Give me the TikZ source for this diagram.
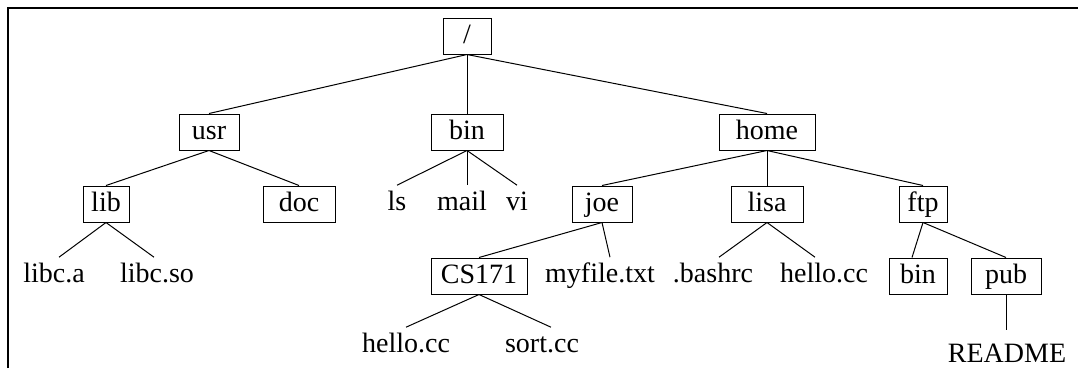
\documentclass[tikz,border=0pt]{standalone}
\usepackage{fontspec}
\setmainfont{Liberation Serif}
\tikzset{
    dir/.style={draw, line width=1pt, inner sep=0pt, minimum height=36pt, minimum width=#1,
        text height=19.6pt, text depth=5.6pt, font=\fontsize{28}{34}\selectfont},
    leaf/.style={inner sep=5pt, text height=19.6pt, text depth=5.6pt, font=\fontsize{28}{34}\selectfont},
    edge/.style={line width=1pt}
}
\begin{document}
\begin{tikzpicture}[x=1pt, y=-1pt]
        \useasboundingbox (0,0) rectangle (1078,368);
        \draw[line width=2pt] (7.5,368) -- (7.5,7.5) -- (1078,7.5);
        \node[dir=48pt] (root) at (467,36) {/};
        \node[dir=60pt] (usr) at (209,132) {usr};
        \node[dir=72pt] (bin) at (467,132) {bin};
        \node[dir=96pt] (home) at (767,132) {home};
        \node[dir=46pt] (lib) at (106,204) {lib};
        \node[dir=72pt] (doc) at (299,204) {doc};
        \node[leaf] (ls) at (397,203) {ls};
        \node[leaf] (mail) at (462,203) {mail};
        \node[leaf] (vi) at (517,203) {vi};
        \node[dir=60pt] (joe) at (602,204) {joe};
        \node[dir=72pt] (lisa) at (767,204) {lisa};
        \node[dir=48pt] (ftp) at (923,204) {ftp};
        \node[leaf] (libca) at (54,275) {libc.a};
        \node[leaf] (libcso) at (157,275) {libc.so};
        \node[dir=96pt] (cs) at (479,276) {CS171};
        \node[leaf] (myfile) at (600,275) {myfile.txt};
        \node[leaf] (bashrc) at (713,275) {.bashrc};
        \node[leaf] (lisahello) at (824,275) {hello.cc};
        \node[dir=58pt] (ftpbin) at (918,276) {bin};
        \node[dir=70pt] (pub) at (1006,276) {pub};
        \node[leaf] (cshello) at (406,345) {hello.cc};
        \node[leaf] (sortcc) at (542,345) {sort.cc};
        \node[leaf, inner ysep=12pt] (readme) at (1007,355) {README};
        \draw[edge] (root.south) -- (usr.north);
        \draw[edge] (root.south) -- (bin.north);
        \draw[edge] (root.south) -- (home.north);
        \draw[edge] (usr.south) -- (lib.north);
        \draw[edge] (usr.south) -- (doc.north);
        \draw[edge] (bin.south) -- (ls.north);
        \draw[edge] (bin.south) -- (bin.south |- mail.north);
        \draw[edge] (bin.south) -- (vi.north);
        \draw[edge] (home.south) -- (joe.north);
        \draw[edge] (home.south) -- (lisa.north);
        \draw[edge] (home.south) -- (ftp.north);
        \draw[edge] (lib.south) -- ([xshift=5pt]libca.north);
        \draw[edge] (lib.south) -- ([xshift=-3pt]libcso.north);
        \draw[edge] (joe.south) -- (cs.north);
        \draw[edge] (joe.south) -- ([xshift=10pt]myfile.north);
        \draw[edge] (lisa.south) -- ([xshift=6pt]bashrc.north);
        \draw[edge] (lisa.south) -- ([xshift=-9pt]lisahello.north);
        \draw[edge] (ftp.south) -- ([xshift=-6pt]ftpbin.north);
        \draw[edge] (ftp.south) -- (pub.north);
        \draw[edge] (cs.south) -- (cshello.north);
        \draw[edge] (cs.south) -- ([xshift=9pt]sortcc.north);
        \draw[edge] (pub.south) -- (pub.south |- readme.north);
    \end{tikzpicture}
\end{document}
